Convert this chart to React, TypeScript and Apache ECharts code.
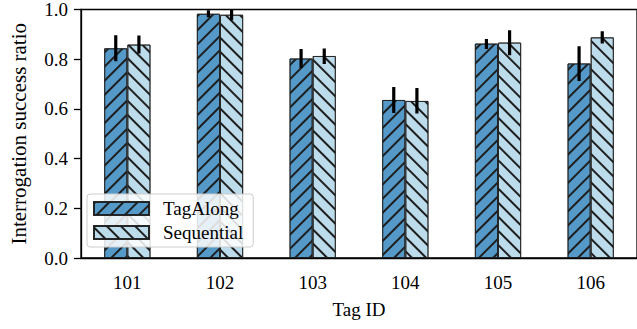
import React, { useEffect, useRef } from 'react';
import * as echarts from 'echarts';

const categories = ['101', '102', '103', '104', '105', '106'];
const tagAlong = [0.844, 0.983, 0.803, 0.636, 0.863, 0.783];
const sequential = [0.859, 0.979, 0.813, 0.632, 0.867, 0.888];
const tagAlongLow = [0.792, 0.969, 0.765, 0.584, 0.841, 0.712];
const tagAlongHigh = [0.896, 0.997, 0.841, 0.688, 0.881, 0.852];
const sequentialLow = [0.823, 0.957, 0.781, 0.581, 0.816, 0.863];
const sequentialHigh = [0.895, 1.0, 0.843, 0.684, 0.916, 0.912];
const yTicks = [0, 0.2, 0.4, 0.6, 0.8, 1.0];

const FONT = "'Liberation Serif', 'Times New Roman', serif";
const BLUE = '#5499c8';
const LIGHT = '#bcdbeb';
const HATCH = '#1e1e1e';
const LEGEND_ICON = 'path://M0,0H55V13H0Z M64,13';

function errorSeries(name: string, low: number[], high: number[], side: number) {
  return {
    type: 'custom',
    name: name + ' err',
    clip: true,
    silent: true,
    z: 5,
    data: low.map((l, i) => [i, l, high[i]]),
    encode: { x: 0, y: [1, 2] },
    renderItem: (params: any, api: any) => {
      const idx = api.value(0);
      const band = api.size([1, 0])[0];
      const off = side * band * 0.125;
      const p1 = api.coord([idx, api.value(1)]);
      const p2 = api.coord([idx, api.value(2)]);
      return {
        type: 'line',
        shape: { x1: p1[0] + off, y1: p1[1], x2: p2[0] + off, y2: p2[1] },
        style: { stroke: '#000', lineWidth: 3.2 },
      };
    },
  };
}

export default function App() {
  const ref = useRef<HTMLDivElement>(null);
  useEffect(() => {
    const chart = echarts.init(ref.current!, null, { renderer: 'svg' });
    const option: any = {
      animation: false,
      backgroundColor: '#fff',
      textStyle: { fontFamily: FONT },
      grid: {
        left: 78,
        top: 8,
        width: 563,
        height: 250,
        show: true,
        borderColor: '#000',
        borderWidth: 1.3,
        backgroundColor: 'transparent',
      },
      legend: {
        orient: 'vertical',
        left: 87,
        top: 194,
        padding: [5, 10, 5, 6],
        itemWidth: 64,
        itemHeight: 13,
        itemGap: 5,
        backgroundColor: 'rgba(255,255,255,0.85)',
        borderColor: '#cccccc',
        borderWidth: 1,
        borderRadius: 3,
        textStyle: { fontFamily: FONT, fontSize: 19, color: '#000' },
        data: [
          { name: 'TagAlong', icon: LEGEND_ICON },
          { name: 'Sequential', icon: LEGEND_ICON },
        ],
      },
      xAxis: {
        type: 'category',
        data: categories,
        name: 'Tag ID',
        nameLocation: 'middle',
        nameGap: 42,
        nameTextStyle: { fontFamily: FONT, fontSize: 19, color: '#000' },
        axisLine: { lineStyle: { color: '#000', width: 1.3 } },
        axisTick: { alignWithLabel: true, length: 7, lineStyle: { color: '#000', width: 1.3 } },
        axisLabel: { fontFamily: FONT, fontSize: 19, color: '#000', margin: 15 },
      },
      yAxis: {
        type: 'value',
        min: 0,
        max: 1,
        interval: 0.2,
        name: 'Interrogation success ratio',
        nameLocation: 'middle',
        nameRotate: 90,
        nameGap: 52,
        nameTextStyle: { fontFamily: FONT, fontSize: 21, color: '#000' },
        axisLine: { show: true, lineStyle: { color: '#000', width: 1.3 } },
        axisTick: { show: true, length: 7, lineStyle: { color: '#000', width: 1.3 } },
        splitLine: { show: false },
        axisLabel: {
          fontFamily: FONT,
          fontSize: 19,
          color: '#000',
          margin: 13,
          formatter: (v: number) => (yTicks.some((t) => Math.abs(t - v) < 1e-9) ? v.toFixed(1) : ''),
        },
      },
      series: [
        {
          type: 'bar',
          name: 'TagAlong',
          data: tagAlong,
          barWidth: '25%',
          barGap: '0%',
          itemStyle: {
            color: BLUE,
            borderColor: 'rgba(30,30,30,0.8)',
            borderWidth: 1,
            decal: {
              symbol: 'rect',
              symbolSize: 1,
              dashArrayX: [1, 0],
              dashArrayY: [1.8, 7.6],
              rotation: -Math.PI / 4,
              color: HATCH,
            },
          },
        },
        {
          type: 'bar',
          name: 'Sequential',
          data: sequential,
          barWidth: '25%',
          barGap: '0%',
          itemStyle: {
            color: LIGHT,
            borderColor: 'rgba(30,30,30,0.8)',
            borderWidth: 1,
            decal: {
              symbol: 'rect',
              symbolSize: 1,
              dashArrayX: [1, 0],
              dashArrayY: [1.8, 7.6],
              rotation: Math.PI / 4,
              color: HATCH,
            },
          },
        },
        errorSeries('TagAlong', tagAlongLow, tagAlongHigh, -1),
        errorSeries('Sequential', sequentialLow, sequentialHigh, 1),
      ],
    };
    chart.setOption(option);
    return () => chart.dispose();
  }, []);
  return (
    <div
      ref={ref}
      style={{ position: 'absolute', left: 0, top: 0, width: 637, height: 329 }}
    />
  );
}
